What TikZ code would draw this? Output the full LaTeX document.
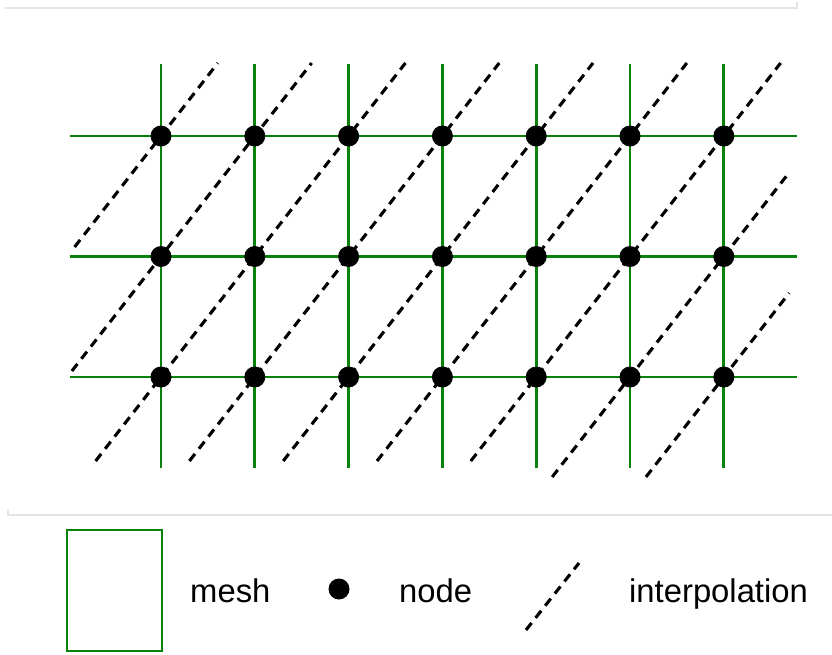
\documentclass[tikz,border=0pt]{standalone}
\usepackage{fontspec}
\setmainfont{Liberation Sans}
\definecolor{meshgreen}{RGB}{8,130,8}
\definecolor{framegray}{RGB}{228,228,228}
\begin{document}
\begin{tikzpicture}[x=1pt,y=-1pt,
  meshline/.style={draw=meshgreen,line width=2.9pt},
  interp/.style={draw=black,line width=3.1pt,dash pattern=on 9pt off 6.5pt},
  dot/.style={circle,fill=black,minimum size=21pt,inner sep=0pt},
  frame/.style={draw=framegray,line width=1.2pt},
  lbl/.style={anchor=base west,inner sep=0pt,font=\fontsize{32.8}{39}\selectfont}]
\useasboundingbox (0,0) rectangle (832,654);
\fill[white] (0,0) rectangle (832,654);
% faint frame lines
\coordinate (ft1) at (5,8); \coordinate (ft2) at (797,8); \coordinate (ft3) at (797,2);
\draw[frame] (ft1) -- (ft2) -- (ft3);
\coordinate (fb1) at (8,509); \coordinate (fb2) at (8,515); \coordinate (fb3) at (832,515);
\draw[frame] (fb1) -- (fb2) -- (fb3);
% mesh lines
\foreach \j/\y in {0/136,1/256.5,2/377}{
  \coordinate (hl-\j) at (70,\y);
  \coordinate (hr-\j) at (797,\y);
  \draw[meshline] (hl-\j) -- (hr-\j);
}
\foreach \i in {0,...,6}{
  \pgfmathsetmacro{\xx}{161+93.8*\i}
  \coordinate (vt-\i) at (\xx,64);
  \coordinate (vb-\i) at (\xx,468);
  \draw[meshline] (vt-\i) -- (vb-\i);
}
% interpolation lines
\foreach \k/\yb/\yt in {0/247/63,1/371/63,2/461/63,3/461/63,4/461/63,5/461/63,6/461/63,7/477/175,8/477/293}{
  \pgfmathsetmacro{\xb}{161+93.8*\k-(\yb-136)/120.5*93.8}
  \pgfmathsetmacro{\xt}{161+93.8*\k-(\yt-136)/120.5*93.8}
  \coordinate (ib-\k) at (\xb,\yb);
  \coordinate (it-\k) at (\xt,\yt);
  \draw[interp] (ib-\k) -- (it-\k);
}
% nodes
\foreach \i in {0,...,6}{
  \foreach \j/\y in {0/136,1/256.5,2/377}{
    \pgfmathsetmacro{\xx}{161+93.8*\i}
    \node[dot] (n-\i-\j) at (\xx,\y) {};
  }
}
% legend
\coordinate (lr1) at (67,530); \coordinate (lr2) at (162,651);
\draw[meshline] (lr1) rectangle (lr2);
\node[lbl] (tmesh) at (190,602) {mesh};
\node[dot] (ldot) at (339,589) {};
\node[lbl] (tnode) at (399,602) {node};
\coordinate (li1) at (526,630); \coordinate (li2) at (579,563);
\draw[interp] (li1) -- (li2);
\node[lbl] (tinterp) at (629,602) {interpolation};
\end{tikzpicture}
\end{document}
